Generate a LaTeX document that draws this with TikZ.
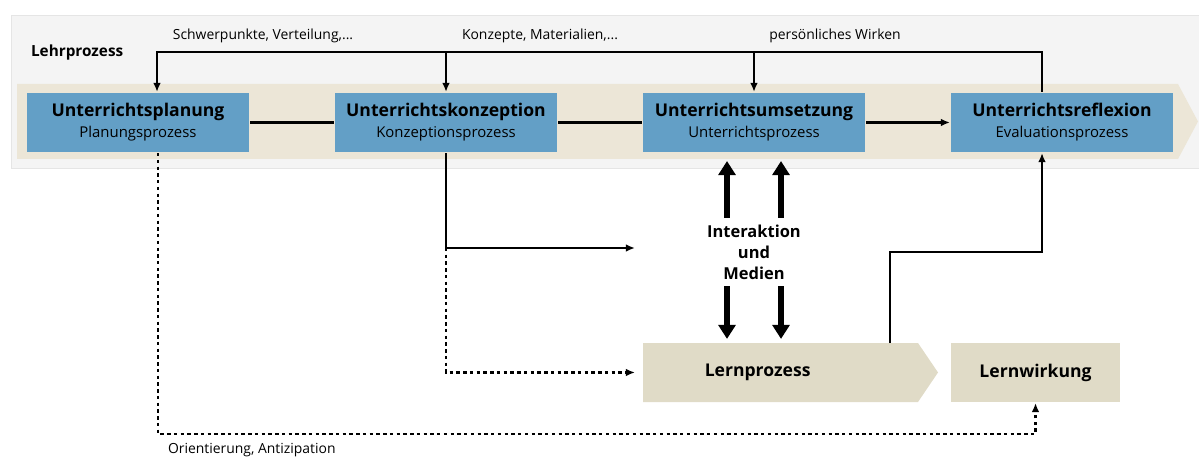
\documentclass[tikz,border=0pt]{standalone}
\usepackage{fontspec}
\setmainfont{Open Sans}
\usetikzlibrary{arrows.meta,calc}
\definecolor{boxblue}{RGB}{99,159,198}
\definecolor{bandbeige}{RGB}{236,230,215}
\definecolor{lernbeige}{RGB}{224,219,199}
\definecolor{panelgrey}{RGB}{244,244,244}
\newcommand{\titlefont}{\bfseries\fontsize{12.5}{15}\selectfont}
\newcommand{\subfont}{\fontsize{10.6}{15}\selectfont}

\begin{document}
\begin{tikzpicture}[line width=1.5pt,
  proc/.style={fill=boxblue, minimum width=5.550cm, minimum height=1.475cm, inner sep=0pt, align=center},
  lern/.style={minimum height=1.475cm, inner sep=0pt, font=\bfseries\fontsize{12.5}{14}\selectfont},
  lbl/.style={font=\fontsize{9.9}{11}\selectfont, inner sep=0pt},
  link/.style={-{Latex[length=6.5pt,width=5.5pt]}},
  dots/.style={dash pattern=on 2.4pt off 2.4pt},
  fat/.style={line width=3.6pt, -{Triangle[length=10pt,width=12pt]}}]
\useasboundingbox (0.000,0.000) rectangle (29.975,11.425);
\fill[panelgrey, draw=black!10, line width=0.5pt] (0.275,7.225) rectangle (29.975,11.050);
\fill[bandbeige] (0.425,7.450) -- (29.450,7.450) -- (29.950,8.388) -- (29.450,9.325) -- (0.425,9.325) -- cycle;
\fill[lernbeige] (16.075,1.375) -- (22.950,1.375) -- (23.450,2.113) -- (22.950,2.850) -- (16.075,2.850) -- cycle;
\node[anchor=west, font=\bfseries\fontsize{10.9}{12}\selectfont, inner sep=0pt] (lehr) at (0.750,10.100) {Lehrprozess};
\node[proc] (plan) at (3.450,8.363) {\titlefont Unterrichtsplanung\\[3pt]\subfont Planungsprozess};
\node[proc] (konz) at (11.150,8.363) {\titlefont Unterrichtskonzeption\\[3pt]\subfont Konzeptionsprozess};
\node[proc] (ums) at (18.850,8.363) {\titlefont Unterrichtsumsetzung\\[3pt]\subfont Unterrichtsprozess};
\node[proc] (refl) at (26.550,8.363) {\titlefont Unterrichtsreflexion\\[3pt]\subfont Evaluationsprozess};
\node[lern, minimum width=6.875cm] (lp) at (19.513,2.113) {};
\node[lern] (lptext) at (18.940,2.113) {Lernprozess};
\node[lern, fill=lernbeige, minimum width=4.225cm] (lw) at (25.888,2.113) {Lernwirkung};
\node[align=center, font=\bfseries\fontsize{11.7}{15}\selectfont, inner sep=4pt] (im) at (18.850,5.125) {Interaktion\\und\\Medien};
\node[lbl] (l1) at (6.575,10.525) {Schwerpunkte, Verteilung,...};
\node[lbl] (l2) at (13.500,10.525) {Konzepte, Materialien,...};
\node[lbl] (l3) at (20.875,10.525) {persönliches Wirken};
\node[lbl, anchor=west] (l4) at (4.175,0.175) {Orientierung, Antizipation};
\coordinate (top) at (0.000,10.125);
\coordinate (split) at (11.150,5.225);
\coordinate (low) at (0.000,0.575);
\coordinate (mid) at (0.000,5.125);
\coordinate (rout) at ([xshift=-0.500cm]refl.north);
\coordinate (pin) at ([xshift=0.475cm]plan.north);
\coordinate (pout) at ([xshift=0.500cm]plan.south);
\coordinate (rin) at ([xshift=-0.500cm]refl.south);
\coordinate (lpup) at (22.250,2.850);
\coordinate (gap) at ([xshift=-0.175cm]lp.west);
\draw[link] (rout) |- (pin |- top) -- (pin);
\draw[link] (konz.north |- top) -- (konz.north);
\draw[link] (ums.north |- top) -- (ums.north);
\draw (plan) -- (konz);
\draw (konz) -- (ums);
\draw[link] (ums) -- (refl);
\draw[link] (konz.south) -- (split) -- (split -| gap);
\draw[link, dots] (split) |- (gap);
\draw[link, dots] (pout) |- (low -| lw.south) -- (lw.south);
\draw[link] (lpup) |- (mid -| rin) -- (rin);
\draw[fat, shorten >=0.2cm] ([xshift=-0.675cm]im.north) -- ([xshift=-0.675cm]ums.south);
\draw[fat, shorten >=0.2cm] ([xshift=0.675cm]im.north) -- ([xshift=0.675cm]ums.south);
\draw[fat, shorten >=0.075cm] ([xshift=-0.675cm]im.south) -- ([xshift=-0.675cm]lp.north -| im.south);
\draw[fat, shorten >=0.075cm] ([xshift=0.675cm]im.south) -- ([xshift=0.675cm]lp.north -| im.south);
\end{tikzpicture}
\end{document}
